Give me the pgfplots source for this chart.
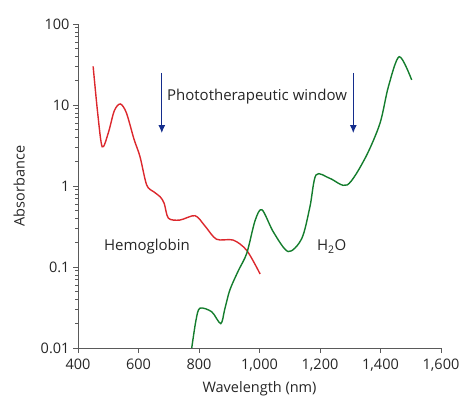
\documentclass[border=0pt]{standalone}
\usepackage{pgfplots}
\pgfplotsset{compat=1.18}
\usetikzlibrary{arrows.meta}
\usepackage{fontspec}
\setmainfont{Open Sans}
\definecolor{hbred}{RGB}{220,40,45}
\definecolor{wgreen}{RGB}{20,125,45}
\definecolor{arrblue}{RGB}{20,45,140}
\definecolor{axgray}{RGB}{90,90,90}
\begin{document}
\begin{tikzpicture}
\begin{axis}[
  scale only axis, width=363pt, height=324pt,
  ymode=log, xmin=400, xmax=1600, ymin=0.01, ymax=100,
  axis lines=left, axis line style={-, axgray, line width=0.8pt},
  tick style={axgray, line width=0.6pt}, tick align=outside,
  major tick length=5pt, minor tick length=3pt,
  xtick={400,600,...,1600},
  ytick={0.01,0.1,1,10,100}, yticklabels={0.01,0.1,1,10,100},
  /pgf/number format/1000 sep={,},
  /pgf/number format/assume math mode=true,
  ticklabel style={font=\fontsize{14.5}{16}\selectfont, text=black!85},
  label style={font=\fontsize{14.5}{16}\selectfont, text=black!85},
  xlabel={Wavelength (nm)}, ylabel={Absorbance},
  xticklabel style={yshift=-2pt},
  xlabel style={yshift=-4pt}, ylabel style={yshift=9pt},
  clip=false,
]
\addplot[hbred, line width=1.4pt, smooth, tension=0.5] coordinates {
(450,30) (465,8) (480,3.05) (500,4.5) (520,8.5) (540,10.3) (560,8) (585,3.8) (605,2.3) (627,1.03) (650,0.85) (671,0.74) (685,0.61) (699,0.40) (737,0.38) (787,0.43) (820,0.32) (858,0.22) (913,0.215) (958,0.16) (1002,0.082)
};
\addplot[wgreen, line width=1.4pt, smooth, tension=0.5] coordinates {
(776,0.01) (790,0.022) (803,0.031) (842,0.028) (872,0.020) (885,0.03) (902,0.052) (930,0.09) (958,0.148) (985,0.37) (1008,0.51) (1046,0.27) (1095,0.155) (1140,0.226) (1167,0.56) (1187,1.37) (1233,1.24) (1290,1.03) (1349,2.2) (1398,5.9) (1426,16.8) (1462,39.5) (1503,20.4)
};
\draw[arrblue, line width=1.1pt, -{Latex[length=8pt,width=7pt]}] (axis cs:677,25) -- (axis cs:677,4.5);
\draw[arrblue, line width=1.1pt, -{Latex[length=8pt,width=7pt]}] (axis cs:1310,25) -- (axis cs:1310,4.5);
\node[font=\fontsize{15}{17}\selectfont, text=black!85] at (axis cs:992,12.7) {Phototherapeutic window};
\node[font=\fontsize{15}{17}\selectfont, text=black!85] at (axis cs:628,0.178) {Hemoglobin};
\node[font=\fontsize{15}{17}\selectfont, text=black!85] at (axis cs:1239,0.178) {H\textsubscript{2}O};
\end{axis}
\pgfresetboundingbox
\path ([xshift=-78pt,yshift=-53pt]current axis.south west) rectangle ([xshift=21pt,yshift=24pt]current axis.north east);
\end{tikzpicture}
\end{document}
